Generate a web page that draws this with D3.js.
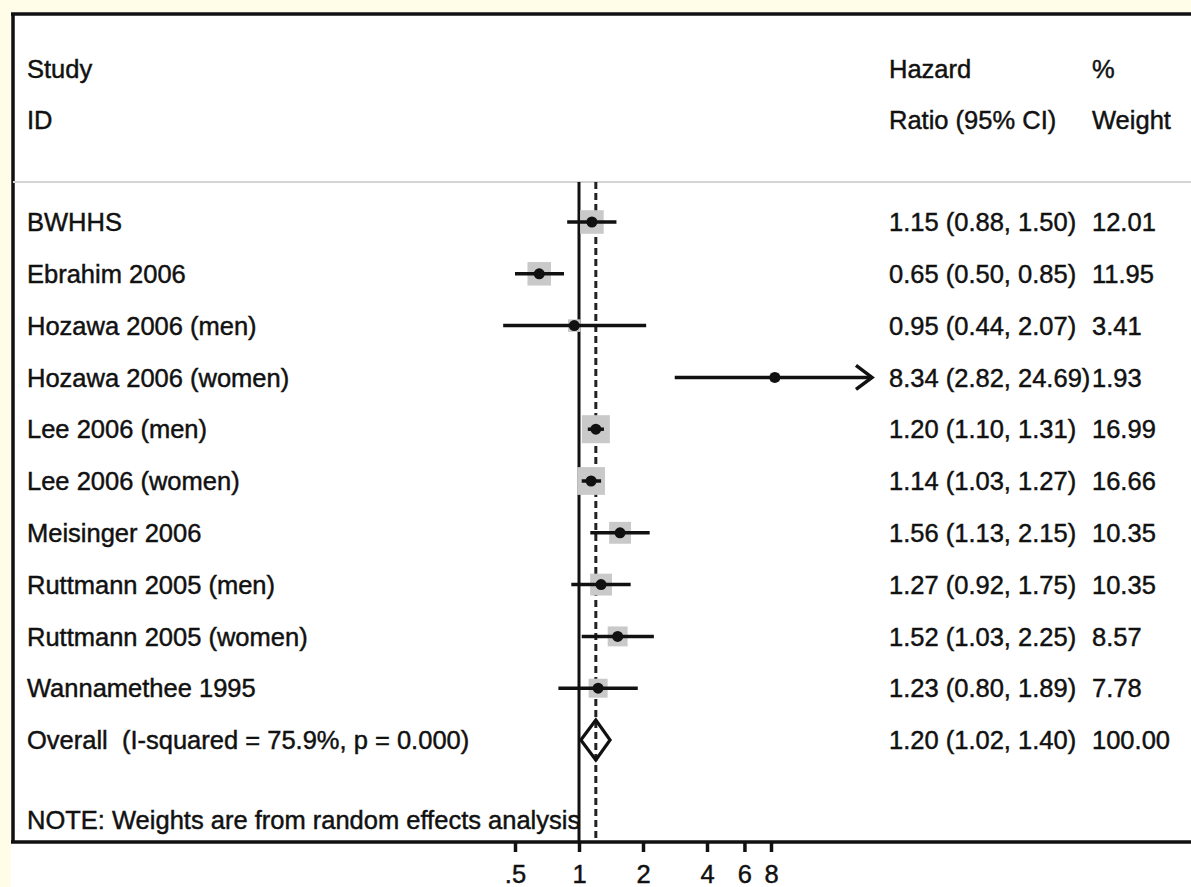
<!DOCTYPE html>
<html>
<head>
<meta charset="utf-8">
<script src="https://cdn.jsdelivr.net/npm/d3@7"></script>
<style>
  html, body { margin: 0; padding: 0; background: #fffde8; }
  svg { display: block; }
  text { font-family: "Liberation Sans", Arial, Helvetica, sans-serif; fill: #111; stroke: #111; stroke-width: 0.45px; }
</style>
</head>
<body>
<svg id="chart" width="1191" height="887"></svg>
<script>
// Study-level hazard ratios (95% CI) and random-effects weights
const studies = [
  "BWHHS", "Ebrahim 2006", "Hozawa 2006 (men)", "Hozawa 2006 (women)",
  "Lee 2006 (men)", "Lee 2006 (women)", "Meisinger 2006",
  "Ruttmann 2005 (men)", "Ruttmann 2005 (women)", "Wannamethee 1995"
];
const hr     = [1.15, 0.65, 0.95, 8.34, 1.20, 1.14, 1.56, 1.27, 1.52, 1.23];
const ciLow  = [0.88, 0.50, 0.44, 2.82, 1.10, 1.03, 1.13, 0.92, 1.03, 0.80];
const ciHigh = [1.50, 0.85, 2.07, 24.69, 1.31, 1.27, 2.15, 1.75, 2.25, 1.89];
const weight = [12.01, 11.95, 3.41, 1.93, 16.99, 16.66, 10.35, 10.35, 8.57, 7.78];

// Pooled estimate
const overallLabel = "Overall  (I-squared = 75.9%, p = 0.000)";
const overallHR = 1.20, overallLow = 1.02, overallHigh = 1.40, overallWeight = 100.00;

// Axis ticks
const tickValues = [0.5, 1, 2, 4, 6, 8];
const tickLabels = [".5", "1", "2", "4", "6", "8"];

const noteText = "NOTE: Weights are from random effects analysis";

const svg = d3.select("#chart");
const W = 1191, H = 887;
const fontSize = 25.5;
const fmt = d3.format(".2f");

// white graph region
svg.append("rect").attr("x", 11).attr("y", 12).attr("width", W - 11).attr("height", H - 12).attr("fill", "#fff");

const frameTop = 14, frameLeft = 13, axisY = 842, sepY = 182;
const clipRight = 872;

const x = d3.scaleLog().base(2).domain([0.5, 8]).range([515, 771]);
const nRows = studies.length + 1;
const y = d3.scaleLinear().domain([0, nRows - 1]).range([222, 740]);

const fmtCI = (e, l, h) => `${fmt(e)} (${fmt(l)}, ${fmt(h)})`;

const rows = studies.map((s, i) => ({
  name: s, hr: hr[i], lo: ciLow[i], hi: ciHigh[i], w: weight[i], i
}));

// frame
svg.append("line").attr("x1", frameLeft - 2).attr("x2", W).attr("y1", frameTop).attr("y2", frameTop)
  .attr("stroke", "#111").attr("stroke-width", 3.5);
svg.append("line").attr("x1", frameLeft).attr("x2", frameLeft).attr("y1", frameTop).attr("y2", axisY)
  .attr("stroke", "#111").attr("stroke-width", 3.5);

// header separator
svg.append("line").attr("x1", frameLeft).attr("x2", W).attr("y1", sepY).attr("y2", sepY)
  .attr("stroke", "#d4d4d4").attr("stroke-width", 2);

// headers
const textX = 27, ciX = 889, wX = 1092;
const hdr = [
  [textX, 69, "Study"], [textX, 120, "ID"],
  [ciX, 69, "Hazard"], [ciX, 120, "Ratio (95% CI)"],
  [wX, 69, "%"], [wX, 120, "Weight"]
];
svg.selectAll("text.hdr").data(hdr).join("text").attr("class", "hdr")
  .attr("x", d => d[0]).attr("y", d => d[1]).attr("dy", "0.36em")
  .attr("font-size", fontSize).text(d => d[2]);

// null line at HR = 1
svg.append("line").attr("x1", x(1)).attr("x2", x(1)).attr("y1", sepY).attr("y2", axisY)
  .attr("stroke", "#111").attr("stroke-width", 3);

// overall effect line
svg.append("line").attr("x1", x(overallHR)).attr("x2", x(overallHR)).attr("y1", sepY).attr("y2", axisY)
  .attr("stroke", "#222").attr("stroke-width", 3).attr("stroke-dasharray", "7,4");

// weight boxes
const boxSide = w => 6.8 * Math.sqrt(w);
svg.selectAll("rect.box").data(rows).join("rect").attr("class", "box")
  .attr("x", d => x(d.hr) - boxSide(d.w) / 2).attr("y", d => y(d.i) - boxSide(d.w) / 2)
  .attr("width", d => boxSide(d.w)).attr("height", d => boxSide(d.w))
  .attr("fill", "#c9c9c9");

// confidence intervals (clipped with arrow where beyond range)
svg.selectAll("line.ci").data(rows).join("line").attr("class", "ci")
  .attr("x1", d => x(d.lo)).attr("x2", d => Math.min(x(d.hi), clipRight))
  .attr("y1", d => y(d.i)).attr("y2", d => y(d.i))
  .attr("stroke", "#111").attr("stroke-width", 3.5);

svg.selectAll("path.arrow").data(rows.filter(d => x(d.hi) > clipRight)).join("path").attr("class", "arrow")
  .attr("d", d => `M${clipRight - 16},${y(d.i) - 12} L${clipRight},${y(d.i)} L${clipRight - 16},${y(d.i) + 12}`)
  .attr("fill", "none").attr("stroke", "#111").attr("stroke-width", 3.5);

// point estimates
svg.selectAll("circle.pt").data(rows).join("circle").attr("class", "pt")
  .attr("cx", d => x(d.hr)).attr("cy", d => y(d.i)).attr("r", 5.5)
  .attr("fill", "#111");

// pooled diamond
const oy = y(nRows - 1);
svg.append("path")
  .attr("d", `M${x(overallLow)},${oy} L${x(overallHR)},${oy - 20} L${x(overallHigh)},${oy} L${x(overallHR)},${oy + 20} Z`)
  .attr("fill", "none").attr("stroke", "#111").attr("stroke-width", 3.2);

// study labels
svg.selectAll("text.name").data(rows).join("text").attr("class", "name")
  .attr("x", textX).attr("y", d => y(d.i)).attr("dy", "0.36em")
  .attr("font-size", fontSize).text(d => d.name);
svg.append("text").attr("x", textX).attr("y", oy).attr("dy", "0.36em")
  .attr("font-size", fontSize).attr("xml:space", "preserve").style("white-space", "pre")
  .text(overallLabel);

// effect size text and weights
const allRows = rows.concat([{ hr: overallHR, lo: overallLow, hi: overallHigh, w: overallWeight, i: nRows - 1 }]);
allRows.forEach(d => {
  const t = svg.append("text").attr("x", ciX).attr("y", y(d.i)).attr("dy", "0.36em")
    .attr("font-size", fontSize).text(fmtCI(d.hr, d.lo, d.hi));
  const end = ciX + t.node().getComputedTextLength();
  svg.append("text").attr("x", Math.max(wX, end)).attr("y", y(d.i)).attr("dy", "0.36em")
    .attr("font-size", fontSize).text(fmt(d.w));
});

// note
svg.append("text").attr("x", textX).attr("y", 820).attr("dy", "0.36em")
  .attr("font-size", fontSize).text(noteText);

// x axis
const axis = d3.axisBottom(x).tickValues(tickValues)
  .tickFormat((d, i) => tickLabels[i]).tickSize(10).tickPadding(13);
const gAxis = svg.append("g").attr("transform", `translate(0,${axisY})`).call(axis);
gAxis.select(".domain").remove();
gAxis.selectAll(".tick line").attr("stroke", "#111").attr("stroke-width", 3.5);
gAxis.selectAll(".tick text").attr("font-size", fontSize)
  .attr("font-family", "Liberation Sans, Arial, sans-serif").attr("fill", "#111");
svg.append("line").attr("x1", frameLeft - 2).attr("x2", W).attr("y1", axisY).attr("y2", axisY)
  .attr("stroke", "#111").attr("stroke-width", 3.5);
</script>
</body>
</html>
